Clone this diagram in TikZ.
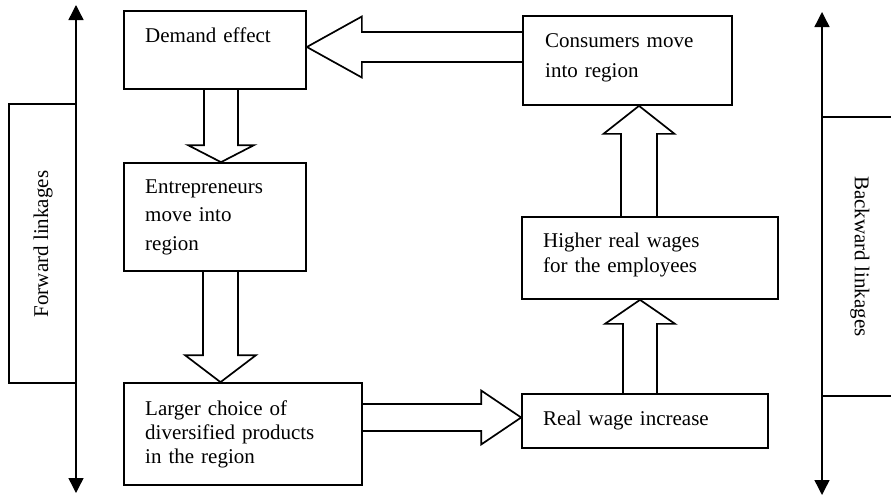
\documentclass[tikz,border=0pt]{standalone}
\usepackage{fontspec}
\setmainfont{Liberation Serif}
\usetikzlibrary{calc,arrows.meta}
\newcommand{\blkarrow}[5]{%
  \coordinate (bh) at ($(#2)!#5!(#1)$);
  \draw[blk] ($(#1)!#3!90:(#2)$) -- ($(bh)!#3!90:(#2)$) -- ($(bh)!#4!90:(#2)$) -- (#2)
    -- ($(bh)!#4!-90:(#2)$) -- ($(bh)!#3!-90:(#2)$) -- ($(#1)!#3!-90:(#2)$);}
\begin{document}
\begin{tikzpicture}[x=1pt,y=-1pt,
  box/.style={draw,line width=1.7pt,inner sep=0pt},
  txt/.style={inner sep=0pt,font=\fontsize{21}{29}\selectfont},
  ltxt/.style={txt,text width=240pt,align=left,anchor=base west},
  blk/.style={draw,line width=1.7pt,line join=miter},
  dbl/.style={{Triangle[width=15pt,length=15pt]}-{Triangle[width=15pt,length=15pt]},line width=1.4pt}]
\useasboundingbox (0,0) rectangle (891,496);
% boxes
\node[box,minimum width=182pt,minimum height=78pt] (de) at (215,50) {};
\node[box,minimum width=209pt,minimum height=89pt] (cm) at (627.5,60.5) {};
\node[box,minimum width=182pt,minimum height=108pt] (en) at (215,217) {};
\node[box,minimum width=238pt,minimum height=102pt] (lc) at (243,434) {};
\node[box,minimum width=256pt,minimum height=82pt] (hw) at (650,258) {};
\node[box,minimum width=246pt,minimum height=54pt] (rw) at (645,421) {};
\node[box,minimum width=67pt,minimum height=279pt] (fl) at (42.5,243.5) {};
\node[box,minimum width=80pt,minimum height=279pt] (bl) at (862,256.5) {};
% texts
\node[ltxt] (tde) at (145,42) {Demand effect};
\node[ltxt,font=\fontsize{21}{29.5}\selectfont] (tcm) at (545,47.5) {Consumers move\\into region};
\node[ltxt,font=\fontsize{21}{28.5}\selectfont] (ten) at (145,193) {Entrepreneurs\\move into\\region};
\node[ltxt,font=\fontsize{21}{24}\selectfont] (tlc) at (145,415) {Larger choice of\\diversified products\\in the region};
\node[ltxt,font=\fontsize{21}{25}\selectfont] (thw) at (543,247) {Higher real wages\\for the employees};
\node[ltxt] (trw) at (543,425.5) {Real wage increase};
\node[txt,rotate=90] (tfl) at (43,244) {Forward linkages};
\node[txt,rotate=-90] (tbl) at (860,256.5) {Backward linkages};
% double arrows
\coordinate (lt) at (76,5);
\coordinate (lb) at (76,493);
\coordinate (rt) at (822,12);
\coordinate (rb) at (822,495);
\draw[dbl] (lt) -- (lb);
\draw[dbl] (rt) -- (rb);
% block arrows
\coordinate (a1s) at (221,0 |- de.south);
\coordinate (a1e) at (221,0 |- en.north);
\blkarrow{a1s}{a1e}{17pt}{33pt}{17pt}
\coordinate (a2s) at (220.5,0 |- en.south);
\coordinate (a2e) at (220.5,0 |- lc.north);
\blkarrow{a2s}{a2e}{17.5pt}{35.5pt}{27pt}
\coordinate (a3s) at (lc.east |- 0,417.5);
\coordinate (a3e) at (rw.west |- 0,417.5);
\blkarrow{a3s}{a3e}{13.5pt}{27pt}{40pt}
\coordinate (a4s) at (640,0 |- rw.north);
\coordinate (a4e) at (640,0 |- hw.south);
\blkarrow{a4s}{a4e}{17pt}{35pt}{24pt}
\coordinate (a5s) at (639,0 |- hw.north);
\coordinate (a5e) at (639,0 |- cm.south);
\blkarrow{a5s}{a5e}{18pt}{35.5pt}{28pt}
\coordinate (a6s) at (cm.west |- 0,47);
\coordinate (a6e) at (de.east |- 0,47);
\blkarrow{a6s}{a6e}{15pt}{30.5pt}{55pt}
\end{tikzpicture}
\end{document}
